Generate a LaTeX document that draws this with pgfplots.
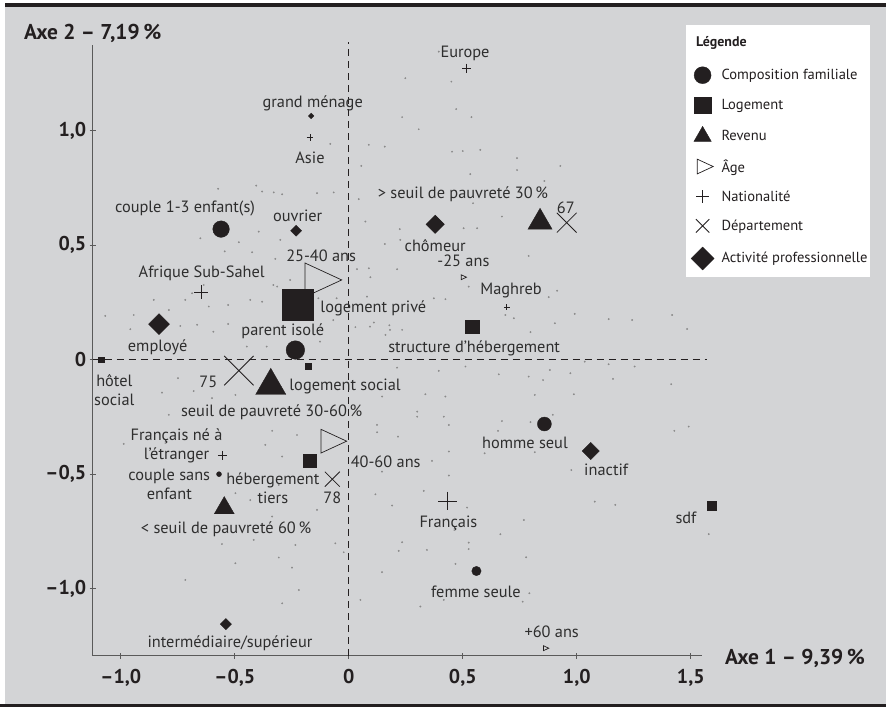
\documentclass[border=0pt]{standalone}
\usepackage{fontspec}
\setmainfont{PT Sans}
\usepackage{pgfplots}
\pgfplotsset{compat=1.18}

\definecolor{panel}{HTML}{D3D4D6}
\definecolor{mk}{HTML}{231F20}
\definecolor{lbl}{HTML}{2E2E2E}
\definecolor{dotc}{HTML}{8A8A8A}
\definecolor{axisgray}{HTML}{5A5A5A}

\pgfplotsset{
  sized/.style={scatter, only marks, forget plot, point meta=x,
    visualization depends on={\thisrow{s}\as\ms},
    scatter/@pre marker code/.code={\scope[mark size=\ms, draw=mk, fill=mk]},
    scatter/@post marker code/.code={\endscope}},
}
\tikzset{
  lab/.style={font=\fontsize{16.4}{19}\selectfont, text=lbl, inner sep=0pt, align=center},
}

\begin{document}
\begin{tikzpicture}
\begin{scope}[x=1bp,y=1bp]
  \useasboundingbox (0,0) rectangle (886,707);
  \fill[white] (0,0) rectangle (886,707);
  \fill[panel] (5,3) rectangle (886,700);
  \fill[mk] (5,699.5) rectangle (886,703.7);
  \fill[mk] (0,0) rectangle (886,3);
  % legend box
  \fill[white] (686,430) rectangle (870,682);
  \node[anchor=base west, font=\fontsize{14}{16}\selectfont\bfseries, text=mk, inner sep=0pt] at (696,660.3) {Légende};
\end{scope}

\begin{axis}[
  at={(92.7bp,51bp)}, anchor=south west,
  scale only axis, width=609bp, height=611bp,
  xmin=-1.123, xmax=1.548, ymin=-1.295, ymax=1.373,
  axis lines=left, axis line style={-, axisgray, line width=1bp},
  clip=false,
  xtick={-1,-0.5,0,0.5,1,1.5},
  xticklabels={{–1,0},{–0,5},0,{0,5},{1,0},{1,5}},
  ytick={-1,-0.5,0,0.5,1},
  yticklabels={{–1,0},{–0,5},0,{0,5},{1,0}},
  tick align=center, major tick length=6bp,
  tick style={axisgray, line width=0.8bp},
  ticklabel style={font=\fontsize{20}{24}\selectfont\bfseries, text=mk},
  xticklabel style={yshift=-7bp},
  legend style={at={(0.9775,0.968)}, anchor=north west, draw=none, fill=none,
    font=\fontsize{14.6}{17}\selectfont, text=mk, row sep=13.2bp,
    /tikz/every odd column/.append style={column sep=5.5bp}},
  legend cell align=left,
]

\addlegendimage{only marks, mark=*, mark size=8.5, draw=mk, fill=mk}
\addlegendentry{Composition familiale}
\addlegendimage{only marks, mark=square*, mark size=8.2, draw=mk, fill=mk}
\addlegendentry{Logement}
\addlegendimage{only marks, mark=triangle*, mark size=10, draw=mk, fill=mk}
\addlegendentry{Revenu}
\addlegendimage{only marks, mark=triangle, mark size=8.5, draw=mk, mark options={xscale=1.25, rotate=-90, line width=0.7bp}}
\addlegendentry{Âge}
\addlegendimage{only marks, mark=+, mark size=6.3, draw=mk, mark options={line width=0.8bp}}
\addlegendentry{Nationalité}
\addlegendimage{only marks, mark=x, mark size=9.5, draw=mk, mark options={line width=0.8bp}}
\addlegendentry{Département}
\addlegendimage{only marks, mark=square*, mark size=8.1, draw=mk, fill=mk, mark options={rotate=45}}
\addlegendentry{Activité professionnelle}

% reference lines through the origin
\draw[mk, line width=0.8bp, dash pattern=on 7bp off 5bp] (axis cs:0,-1.295) -- (axis cs:0,1.385);
\draw[mk, line width=0.8bp, dash pattern=on 7bp off 5bp] (axis cs:-1.123,0) -- (axis cs:1.571,0);

% individuals (cloud of points)
\addplot[only marks, mark=*, mark size=0.7, draw=dotc, fill=dotc, forget plot] table {
x y
-0.573 0.745
-0.406 0.759
-0.380 0.733
-0.329 0.729
-0.292 0.721
-0.651 0.529
-0.482 0.512
-0.544 0.472
-0.424 0.468
-0.322 0.439
-0.395 0.558
-0.300 0.522
-0.314 0.318
-0.717 0.260
-0.614 0.231
-0.529 0.238
-0.432 0.260
-0.380 0.252
-0.855 0.260
-1.068 0.190
-0.943 0.194
-0.789 0.216
-0.739 0.146
-0.665 0.151
-0.529 0.155
-0.958 0.132
-0.636 0.325
-0.687 0.289
0.395 1.344
0.248 1.228
0.450 1.213
0.471 1.093
0.538 1.058
0.234 1.058
0.307 1.005
0.158 0.929
0.088 0.937
-0.081 0.941
0.453 0.907
0.500 0.910
0.577 0.915
0.055 0.845
0.533 0.809
-0.139 0.726
-0.066 0.729
0.044 0.700
0.545 0.682
0.073 0.602
0.224 0.569
0.504 0.573
0.563 0.573
0.672 0.624
0.158 0.504
0.226 0.522
0.036 0.394
0.088 0.398
0.212 0.394
0.095 0.359
0.526 0.318
0.373 0.267
0.424 0.263
0.080 0.274
0.110 0.161
0.178 0.149
0.234 0.129
0.029 0.141
0.161 0.107
0.687 0.194
0.738 0.879
0.738 0.827
0.928 0.845
0.858 0.779
0.789 0.452
0.914 0.300
0.877 0.272
0.724 0.180
0.904 0.158
0.991 0.199
1.140 0.176
1.243 0.172
1.418 0.194
1.484 0.133
0.797 0.119
-0.749 -0.082
-0.819 -0.145
-0.680 -0.138
-0.600 -0.169
-0.497 -0.155
-0.366 -0.126
-0.789 -0.242
-0.987 -0.369
-0.336 -0.312
-0.227 -0.330
-0.366 -0.373
-0.292 -0.424
-0.497 -0.584
-0.432 -0.614
-0.307 -0.548
-0.336 -0.686
-0.556 -0.806
-0.417 -0.788
-0.234 -0.810
-0.497 -0.890
-0.307 -0.865
-0.717 -0.963
-0.249 -0.909
-0.219 -1.007
-0.292 -1.065
0.212 -0.036
0.395 -0.050
0.512 -0.031
0.658 -0.065
0.146 -0.162
0.336 -0.152
0.424 -0.162
0.300 -0.228
0.300 -0.250
0.417 -0.250
0.439 -0.286
0.124 -0.286
0.124 -0.318
0.216 -0.337
0.672 -0.269
0.655 -0.312
0.439 -0.402
0.365 -0.443
0.596 -0.410
0.146 -0.490
0.439 -0.507
0.329 -0.574
0.117 -0.589
0.190 -0.638
0.519 -0.647
0.665 -0.763
-0.139 -0.657
0.234 -0.798
0.219 -0.836
0.343 -0.832
0.526 -0.800
0.526 -0.828
0.468 -0.893
0.146 -0.929
0.051 -1.050
0.314 -1.079
0.417 -1.050
-0.022 -0.842
-0.059 -0.803
0.789 -0.075
0.852 -0.090
0.882 -0.046
0.972 -0.060
1.035 -0.010
1.140 -0.021
1.254 -0.031
1.159 -0.085
1.414 -0.108
0.816 -0.155
0.987 -0.152
0.895 -0.242
0.797 -0.274
1.428 -0.312
1.491 -0.293
0.816 -0.405
0.976 -0.483
1.079 -0.621
1.169 -0.635
0.768 -0.701
1.579 -0.763
0.778 -0.864
0.792 -1.021
0.763 -1.058
-0.257 0.347
-0.331 0.325
-0.133 0.267
-0.053 0.267
-0.068 0.172
-0.126 0.129
0.093 0.143
0.181 0.129
-0.447 0.056
-0.360 0.056
-0.594 0.121
-0.126 0.078
};

% Composition familiale
\addplot[sized, mark=*] table {
x y s
-0.560 0.569 8.3
-0.234 0.041 9.3
-0.569 -0.501 2.5
0.858 -0.282 7.0
0.560 -0.924 4.7
};
% Logement
\addplot[sized, mark=square*] table {
x y s
-0.224 0.238 15.8
-1.085 -0.002 2.8
-0.179 -0.031 3.0
0.542 0.143 6.7
-0.170 -0.443 6.7
1.590 -0.640 4.5
};
% Revenu
\addplot[sized, mark=triangle*] table {
x y s
0.839 0.599 14.0
-0.342 -0.115 17.5
-0.546 -0.649 11.5
};
% Age
\addplot[sized, mark=triangle,
  mark options={xscale=1.25, rotate=-90, line width=0.7bp}] table {
x y s
-0.138 0.347 19.6
-0.084 -0.357 13.7
0.501 0.359 2.8
0.862 -1.261 2.8
};
% Nationalite
\addplot[sized, mark=+, mark options={line width=0.8bp}] table {
x y s
0.518 1.272 4.5
-0.170 0.969 3.3
-0.648 0.293 7.0
0.693 0.228 3.0
-0.553 -0.420 4.7
0.434 -0.618 9.3
};
% Departement
\addplot[sized, mark=x, mark options={line width=0.8bp}] table {
x y s
0.956 0.597 14.0
-0.482 -0.049 20.8
-0.072 -0.523 10.6
};
% Activite professionnelle
\addplot[sized, mark=square*, mark options={rotate=45}] table {
x y s
-0.165 1.063 2.0
-0.231 0.562 3.9
0.379 0.590 6.5
-0.832 0.154 7.4
1.061 -0.400 6.1
-0.539 -1.156 4.0
};

% labels
\node[lab] at (axis cs:-0.158,1.120) {grand ménage};
\node[lab] at (axis cs:-0.170,0.880) {Asie};
\node[lab] at (axis cs:0.510,1.338) {Europe};
\node[lab] at (axis cs:-0.718,0.657) {couple 1-3 enfant(s)};
\node[lab] at (axis cs:-0.224,0.627) {ouvrier};
\node[lab] at (axis cs:0.501,0.723) {> seuil de pauvreté 30\,\%};
\node[lab] at (axis cs:0.952,0.662) {67};
\node[lab] at (axis cs:0.379,0.496) {chômeur};
\node[lab] at (axis cs:0.503,0.431) {-25 ans};
\node[lab] at (axis cs:0.712,0.300) {Maghreb};
\node[lab] at (axis cs:-0.121,0.453) {25-40 ans};
\node[lab] at (axis cs:-0.645,0.376) {Afrique Sub-Sahel};
\node[lab] at (axis cs:0.108,0.221) {logement privé};
\node[lab] at (axis cs:-0.838,0.053) {employé};
\node[lab] at (axis cs:-0.289,0.121) {parent isolé};
\node[lab] at (axis cs:0.550,0.049) {structure d'hébergement};
\node[lab] at (axis cs:-1.028,-0.133) {hôtel\\social};
\node[lab] at (axis cs:-0.616,-0.097) {75};
\node[lab] at (axis cs:-0.016,-0.116) {logement social};
\node[lab] at (axis cs:-0.338,-0.231) {seuil de pauvreté 30-60\,\%};
\node[lab] at (axis cs:-0.755,-0.379) {Français né à\\l'étranger};
\node[lab] at (axis cs:0.162,-0.446) {40-60 ans};
\node[lab] at (axis cs:-0.787,-0.547) {couple sans\\enfant};
\node[lab] at (axis cs:-0.333,-0.561) {hébergement\\tiers};
\node[lab] at (axis cs:-0.072,-0.603) {78};
\node[lab] at (axis cs:-0.538,-0.740) {< seuil de pauvreté 60\,\%};
\node[lab] at (axis cs:-0.521,-1.239) {intermédiaire/supérieur};
\node[lab] at (axis cs:0.773,-0.366) {homme seul};
\node[lab] at (axis cs:1.129,-0.483) {inactif};
\node[lab] at (axis cs:0.437,-0.718) {Français};
\node[lab] at (axis cs:1.479,-0.691) {sdf};
\node[lab] at (axis cs:0.558,-1.014) {femme seule};
\node[lab] at (axis cs:0.890,-1.189) {+60 ans};
\end{axis}

\begin{scope}[x=1bp,y=1bp]
  \node[anchor=base west, font=\fontsize{21.5}{25}\selectfont\bfseries, text=mk, inner sep=0pt] at (24,667) {Axe 2 – 7,19\,\%};
  \node[anchor=base west, font=\fontsize{21.5}{25}\selectfont\bfseries, text=mk, inner sep=0pt] at (725,42) {Axe 1 – 9,39\,\%};
\end{scope}
\end{tikzpicture}
\end{document}
